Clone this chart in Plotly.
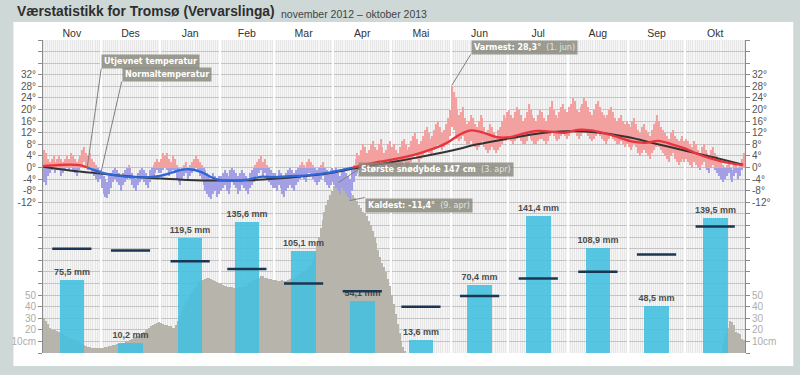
import pandas as pd
import plotly.graph_objects as go

# ---------------- data ----------------
months = ['Nov', 'Des', 'Jan', 'Feb', 'Mar', 'Apr', 'Mai', 'Jun', 'Jul', 'Aug', 'Sep', 'Okt']
month_starts = ['2012-11-01', '2012-12-01', '2013-01-01', '2013-02-01', '2013-03-01', '2013-04-01',
                '2013-05-01', '2013-06-01', '2013-07-01', '2013-08-01', '2013-09-01', '2013-10-01',
                '2013-11-01']
precip_mm = [75.5, 10.2, 119.5, 135.6, 105.1, 54.1, 13.6, 70.4, 141.4, 108.9, 48.5, 139.5]
precip_normal_mm = [108, 106, 95, 87, 72, 64, 48, 59, 77, 84, 102, 131]

tmax_nov = [6,5,3,2,3,4,2,3,4,3,2,3,4,3,5,4,3,2,3,4,6,7,5,4,5,3,2,1,0,-1]
tmin_nov = [-5,-6,-3,-2,-1,0,-2,-1,-1,-3,-2,-1,0,-1,0,-1,-2,-3,-1,0,1,2,0,-1,0,-2,-3,-4,-5,-4]
tmax_des = [-2,-3,-4,-5,-3,-2,-1,0,-1,-2,-3,-2,-1,0,1,0,-2,-3,-4,-2,-1,0,-1,-2,-3,-1,0,1,2,3,2]
tmin_des = [-7,-9,-10,-10.5,-9,-7,-5,-4,-5,-6,-8,-6,-5,-4,-3,-4,-6,-7,-8,-6,-5,-4,-5,-6,-7,-5,-4,-3,-2,-1,-2]
tmax_jan = [3,5,4,5,3,2,4,3,1,0,-1,0,1,2,0,1,2,3,4,3,2,1,0,-1,-2,-3,-4,-2,-3,-4,-3]
tmin_jan = [-2,-1,0,-1,-3,-2,-1,-2,-4,-5,-6,-4,-3,-2,-4,-3,-2,-1,0,-1,-3,-4,-6,-8,-9,-10,-11,-9,-8,-10,-9]
tmax_feb = [-3,-2,-1,-2,-3,-1,0,-1,-2,-3,-2,-1,-2,-3,-4,-2,-1,0,1,2,3,4,2,3,1,0,-1,-2]
tmin_feb = [-8,-7,-6,-8,-9,-7,-5,-6,-7,-9,-8,-6,-7,-8,-9,-7,-6,-5,-4,-3,-2,-1,-3,-2,-4,-5,-6,-7]
tmax_mar = [-2,-3,-1,-2,-4,-3,-2,-1,0,-1,-2,-1,0,1,2,1,0,2,3,2,1,0,-1,0,1,2,0,-1,-2,-1,0]
tmin_mar = [-7,-8,-6,-7,-9,-10,-8,-7,-6,-7,-8,-6,-5,-4,-3,-4,-5,-3,-2,-3,-4,-5,-6,-5,-4,-3,-5,-6,-7,-6,-5]
tmax_apr = [-1,0,-2,-3,-1,0,-2,-3,-4,-1,1,3,5,4,6,8,7,5,6,8,9,7,6,8,10,7,5,6,8,9]
tmin_apr = [-6,-7,-8,-9,-7,-8,-9,-10,-11.4,-8,-5,-3,-2,-1,0,1,0,-1,0,1,2,0,-1,1,2,1,0,-1,0,1]
tmax_mai = [7,8,6,5,7,9,10,8,6,7,9,11,12,10,8,9,11,13,14,12,10,11,13,15,16,14,12,13,15,17,20]
tmin_mai = [0,1,0,-1,0,1,2,1,0,1,2,3,4,3,2,3,4,5,6,5,4,5,6,7,8,7,6,7,8,9,11]
tmax_jun = [28.3,26,24,20,18,19,21,17,15,16,18,17,15,14,16,18,17,14,12,13,15,14,12,11,13,14,16,18,17,19]
tmin_jun = [14,13,11,10,9,10,11,9,8,8,9,8,7,6,7,8,9,7,6,5,6,7,6,5,6,7,8,9,9,10]
tmax_jul = [20,18,17,19,21,20,18,16,17,19,22,20,18,17,16,18,20,19,17,16,18,21,23,20,18,17,19,21,22,20,19]
tmin_jul = [10,9,8,9,10,11,9,8,8,9,11,10,9,8,8,9,10,10,9,8,9,11,12,11,10,9,10,11,12,11,10]
tmax_aug = [21,22,24,23,20,19,21,22,24,23,21,19,18,20,22,23,21,19,18,17,18,20,21,19,17,16,17,18,16,15,16]
tmin_aug = [11,12,13,12,11,10,11,12,13,12,11,10,9,10,11,12,11,10,9,8,9,10,11,10,9,8,8,9,8,7,8]
tmax_sep = [15,14,16,17,15,13,12,14,15,13,12,11,13,15,16,18,16,14,13,12,11,10,12,13,11,10,9,10,11,9]
tmin_sep = [7,6,7,8,7,5,4,5,6,5,4,3,5,6,7,8,7,6,5,4,3,2,4,5,3,2,1,2,3,2]
tmax_okt = [10,9,8,7,9,8,6,5,7,8,6,5,4,6,7,5,4,3,2,1,0,1,2,0,-1,1,2,0,1,3,5]
tmin_okt = [3,2,1,0,2,1,0,-1,1,2,0,-1,-2,0,1,-1,-2,-3,-4,-5,-4,-3,-2,-4,-5,-3,-2,-4,-3,-1,0]

snow_nov = [30,28,25,22,21,20,20,19,18,17,16,15,14,13,12,12,11,10,10,9,8,7,6,5,5,4,4,4,4,4]
snow_des = [4,4,5,5,6,6,7,7,8,8,8,9,9,10,10,11,12,13,14,15,16,17,18,20,21,22,23,24,25,26,27]
snow_jan = [26,25,24,24,23,23,22,22,24,28,32,36,40,44,47,50,53,55,57,59,61,62,63,64,65,65,64,63,62,61,60]
snow_feb = [60,59,58,58,57,57,57,56,56,56,57,57,58,58,59,60,61,62,63,64,65,66,66,65,65,64,64,63]
snow_mar = [63,63,62,62,63,62,62,63,64,64,65,66,67,68,69,70,71,72,74,76,80,85,92,100,108,115,122,128,132,136,140]
snow_apr = [144,146,147,146,145,144,143,142,140,138,136,134,131,128,125,122,121,118,114,110,105,100,95,89,83,78,74,70,64,58]
snow_mai = [50,42,34,25,17,10,5,2] + [0] * 23
snow_jun = [0] * 30
snow_jul = [0] * 31
snow_aug = [0] * 31
snow_sep = [0] * 30
snow_okt = [0] * 19 + [8,14,17,22,28,27,24,18,17,16,12,11]

# smoothed ("utjevnet") temperature, read at selected dates
smooth_dates = ['2012-11-01','2012-11-08','2012-11-15','2012-11-20','2012-11-24','2012-11-28',
                '2012-12-03','2012-12-10','2012-12-20','2012-12-31','2013-01-07','2013-01-12',
                '2013-01-16','2013-01-22','2013-01-30','2013-02-06','2013-02-15','2013-02-22',
                '2013-03-01','2013-03-10','2013-03-20','2013-03-30','2013-04-06','2013-04-11',
                '2013-04-18','2013-04-25','2013-05-02','2013-05-09','2013-05-16','2013-05-23',
                '2013-05-30','2013-06-06','2013-06-12','2013-06-18','2013-06-25','2013-07-02',
                '2013-07-09','2013-07-16','2013-07-23','2013-07-30','2013-08-06','2013-08-13',
                '2013-08-20','2013-08-27','2013-09-03','2013-09-10','2013-09-17','2013-09-24',
                '2013-10-01','2013-10-08','2013-10-15','2013-10-22','2013-10-31']
smooth_temp = [0.5,0.8,1.0,0.8,0.0,-1.0,-2.0,-2.8,-3.4,-3.0,-1.8,-0.8,-0.6,-1.5,-4.0,-4.5,-4.2,-3.2,
               -3.3,-3.0,-2.6,-1.8,-0.8,0.0,1.0,2.0,2.8,3.8,5.0,6.5,8.5,11.5,12.8,12.0,10.5,10.5,
               11.8,12.6,12.4,12.0,13.0,12.8,11.8,10.5,9.0,8.5,9.2,8.0,6.5,4.5,3.0,1.8,0.8]

normal_dates = ['2012-11-01','2012-11-15','2012-12-01','2012-12-15','2013-01-01','2013-01-15',
                '2013-02-01','2013-02-15','2013-03-01','2013-03-15','2013-04-01','2013-04-15',
                '2013-05-01','2013-05-15','2013-06-01','2013-06-15','2013-07-01','2013-07-15',
                '2013-08-01','2013-08-15','2013-09-01','2013-09-15','2013-10-01','2013-10-15',
                '2013-10-31']
normal_temp = [0.3,-1.0,-2.1,-3.0,-3.8,-4.3,-4.5,-4.4,-3.9,-3.1,-1.7,0.1,1.8,3.5,5.8,8.0,10.0,11.6,
               12.5,12.2,10.5,8.3,5.8,3.6,1.0]

# ---------------- assemble ----------------
tmax = tmax_nov + tmax_des + tmax_jan + tmax_feb + tmax_mar + tmax_apr + tmax_mai + tmax_jun + tmax_jul + tmax_aug + tmax_sep + tmax_okt
tmin = tmin_nov + tmin_des + tmin_jan + tmin_feb + tmin_mar + tmin_apr + tmin_mai + tmin_jun + tmin_jul + tmin_aug + tmin_sep + tmin_okt
snow = snow_nov + snow_des + snow_jan + snow_feb + snow_mar + snow_apr + snow_mai + snow_jun + snow_jul + snow_aug + snow_sep + snow_okt

DAY = 86400000
days = pd.date_range('2012-11-01', '2013-10-31', freq='D')
day_mid = days + pd.Timedelta(hours=12)
n = len(days)
tmax = tmax[:n]; tmin = tmin[:n]; snow = snow[:n]

ms = pd.to_datetime(month_starts)
month_mid = [ms[i] + (ms[i + 1] - ms[i]) / 2 for i in range(12)]

warm_base = [max(lo, 0) for lo in tmin]
warm_h = [(hi - max(lo, 0)) if hi > 0 else 0 for hi, lo in zip(tmax, tmin)]
cold_base = [lo for lo in tmin]
cold_h = [(min(hi, 0) - lo) if lo < 0 else 0 for hi, lo in zip(tmax, tmin)]

sx = pd.to_datetime(smooth_dates)
xs, ys = [], []
for i, v in enumerate(smooth_temp):
    if i > 0 and smooth_temp[i - 1] * v < 0:
        v0 = smooth_temp[i - 1]
        t = v0 / (v0 - v)
        xs.append(sx[i - 1] + (sx[i] - sx[i - 1]) * t)
        ys.append(0.0)
    xs.append(sx[i]); ys.append(v)
warm_y = [v if v >= 0 else None for v in ys]
cold_y = [v if v <= 0 else None for v in ys]

fig = go.Figure()

# snow depth
fig.add_trace(go.Bar(x=day_mid, y=snow, width=0.8 * DAY, marker=dict(color='#b7b4ac', line=dict(width=0)),
                     xaxis='x', yaxis='y', hoverinfo='skip'))

# precipitation
labels = [('<b>%.1f mm</b>' % v).replace('.', ',') for v in precip_mm]
fig.add_trace(go.Bar(x=month_mid, y=precip_mm, width=12.8 * DAY, xaxis='x', yaxis='y2',
                     marker=dict(color='#46c1e0', line=dict(width=0)), opacity=0.9,
                     text=labels, textposition='outside', cliponaxis=False, constraintext='none',
                     textfont=dict(family='Liberation Sans, Arial', size=9, color='#3a3a3a'),
                     hoverinfo='skip'))
fig.add_trace(go.Scatter(x=month_mid, y=precip_normal_mm, mode='markers', xaxis='x', yaxis='y2',
                         marker=dict(symbol='line-ew', size=28, line=dict(width=2.5, color='#1b3652')),
                         hoverinfo='skip'))

# daily temperature ranges
fig.add_trace(go.Bar(x=day_mid, y=warm_h, base=warm_base, width=0.55 * DAY, xaxis='x', yaxis='y3',
                     marker=dict(color='#f2a0a0', line=dict(width=0)), hoverinfo='skip'))
fig.add_trace(go.Bar(x=day_mid, y=cold_h, base=cold_base, width=0.55 * DAY, xaxis='x', yaxis='y3',
                     marker=dict(color='#a29fe4', line=dict(width=0)), hoverinfo='skip'))

# normal temperature
fig.add_trace(go.Scatter(x=pd.to_datetime(normal_dates), y=normal_temp, mode='lines', xaxis='x', yaxis='y3',
                         line=dict(color='#333333', width=2, shape='spline'), hoverinfo='skip'))
# smoothed temperature
fig.add_trace(go.Scatter(x=xs, y=cold_y, mode='lines', xaxis='x', yaxis='y3', connectgaps=False,
                         line=dict(color='#2f66d6', width=2.3, shape='spline'), hoverinfo='skip'))
fig.add_trace(go.Scatter(x=xs, y=warm_y, mode='lines', xaxis='x', yaxis='y3', connectgaps=False,
                         line=dict(color='#e8343c', width=2.3, shape='spline'), hoverinfo='skip'))

# invisible anchors so that the helper axes get drawn
for xa, ya in [('x2', 'y'), ('x3', 'y'), ('x', 'y4'), ('x', 'y5')]:
    fig.add_trace(go.Scatter(x=[days[0]], y=[1], xaxis=xa, yaxis=ya, mode='markers',
                             marker=dict(opacity=0, size=1), hoverinfo='skip'))

# ---------------- axes ----------------
xr = ['2012-11-01', '2013-11-01']
snow_ticks = list(range(0, 271, 10))
snow_text = ['10cm' if v == 10 else (str(v) if v in (20, 30, 40, 50) else '') for v in snow_ticks]
temp_ticks = list(range(-12, 33, 4))
temp_text = ['%d°' % v for v in temp_ticks]
AX = '#8c8c8c'
tfont = dict(family='Liberation Sans, Arial', size=10, color='#555555')
sfont = dict(family='Liberation Sans, Arial', size=10, color='#adadad')

L, R, T, B = 33, 55, 40, 22
W, H = 800, 375
pw, ph = W - L - R, H - T - B


def px(x, y):
    return (x - L) / pw, (H - B - y) / ph


fig.update_layout(
    width=W, height=H, autosize=False,
    margin=dict(l=L, r=R, t=T, b=B, pad=0),
    paper_bgcolor='#cdd8d7', plot_bgcolor='rgba(0,0,0,0)',
    barmode='overlay', bargap=0, showlegend=False,
    font=dict(family='Liberation Sans, Arial, sans-serif'),
    xaxis=dict(type='date', range=xr, showticklabels=False, showgrid=True, gridcolor='#f6f6f6',
               gridwidth=1, dtick=DAY, tick0='2012-11-01', ticks='', zeroline=False, showline=False,
               fixedrange=True),
    xaxis2=dict(type='date', overlaying='x', anchor='y', range=xr, tickvals=month_starts,
                showticklabels=False, showgrid=True, gridcolor='#ffffff', gridwidth=2, ticks='',
                zeroline=False, showline=False),
    xaxis3=dict(type='date', overlaying='x', anchor='y', side='top', range=xr, tickvals=month_mid,
                ticktext=months, showgrid=False, ticks='', zeroline=False, showline=False,
                tickfont=dict(family='Liberation Sans, Arial', size=10.5, color='#333333')),
    yaxis=dict(range=[0, 270], tickvals=snow_ticks, ticktext=snow_text, showgrid=True,
               gridcolor='#c4c4c4', gridwidth=1, ticks='outside', ticklen=4, tickcolor=AX,
               showline=True, linecolor=AX, linewidth=1, zeroline=False, tickfont=sfont),
    yaxis2=dict(overlaying='y', range=[0, 324], visible=False),
    yaxis3=dict(overlaying='y', anchor='x', side='left', range=[-64, 44], tickvals=temp_ticks,
                ticktext=temp_text, showgrid=False, zeroline=False, ticks='outside', ticklen=4,
                tickcolor=AX, showline=False, tickfont=tfont),
    yaxis4=dict(overlaying='y', anchor='x', side='right', range=[-64, 44], tickvals=temp_ticks,
                ticktext=temp_text, showgrid=False, zeroline=False, ticks='outside', ticklen=4,
                tickcolor=AX, showline=False, tickfont=tfont),
    yaxis5=dict(overlaying='y', anchor='x', side='right', range=[0, 270], tickvals=snow_ticks,
                ticktext=snow_text, showgrid=False, zeroline=False, ticks='outside', ticklen=4,
                tickcolor=AX, showline=True, linecolor=AX, tickfont=sfont),
)

# panel & plot-area backgrounds
x0, y0 = px(3, 366)
x1, y1 = px(794, 22)
fig.add_shape(type='rect', xref='paper', yref='paper', x0=x0, y0=y0, x1=x1, y1=y1,
              fillcolor='#ffffff', line=dict(width=0), layer='below')
fig.add_shape(type='rect', xref='paper', yref='paper', x0=0, y0=0, x1=1, y1=1,
              fillcolor='#e6e6e6', line=dict(width=0), layer='below')

# title
tx, ty = px(5, 12)
fig.add_annotation(xref='paper', yref='paper', x=tx, y=ty, xanchor='left', yanchor='middle',
                   showarrow=False, text='<b>Værstatistikk for Tromsø (Vervarslinga)</b>',
                   font=dict(family='Liberation Sans, Arial', size=13.8, color='#2e2e2e'))
sx_, sy_ = px(272, 14)
fig.add_annotation(xref='paper', yref='paper', x=sx_, y=sy_, xanchor='left', yanchor='middle',
                   showarrow=False, text='november 2012 – oktober 2013',
                   font=dict(family='Liberation Sans, Arial', size=10.5, color='#444444'))

BOX = 'rgba(135,135,125,0.82)'
nfont = dict(family='DejaVu Sans, Verdana', size=8, color='#ffffff')


def note(text, x, y, yref, ax, ay, xanchor, yanchor):
    fig.add_annotation(x=x, y=y, xref='x', yref=yref, ax=ax, ay=ay, axref='pixel', ayref='pixel',
                       text=text, showarrow=True, arrowhead=0, arrowwidth=1, arrowcolor='#808080',
                       xanchor=xanchor, yanchor=yanchor, bgcolor=BOX, borderpad=2, font=nfont)


i_max = max(range(n), key=lambda i: tmax[i])
i_min = min(range(n), key=lambda i: tmin[i])
i_snow = max(range(n), key=lambda i: snow[i])
mon_low = ['jan', 'feb', 'mar', 'apr', 'mai', 'jun', 'jul', 'aug', 'sep', 'okt', 'nov', 'des']


def dstr(d):
    return '%d. %s' % (d.day, mon_low[d.month - 1])


note('<b>Utjevnet temperatur</b>', sx[4], smooth_temp[4], 'y3', 14, -99, 'left', 'bottom')
note('<b>Normaltemperatur</b>', pd.to_datetime(normal_dates[2]), normal_temp[2], 'y3', 21, -92,
     'left', 'bottom')
note(('<b>Varmest: %.1f°</b>  <span style="color:#e4e4e4">(%s)</span>' % (tmax[i_max], dstr(days[i_max]))).replace('.', ',', 1),
     day_mid[i_max], tmax[i_max], 'y3', 19, -31, 'left', 'bottom')
note('<b>Største snødybde %d cm</b>  <span style="color:#e4e4e4">(%s)</span>' % (snow[i_snow], dstr(days[i_snow])),
     day_mid[i_snow], snow[i_snow], 'y', 20, -13, 'left', 'middle')
note(('<b>Kaldest: %.1f°</b>  <span style="color:#e4e4e4">(%s)</span>' % (tmin[i_min], dstr(days[i_min]))).replace('.', ',', 1),
     day_mid[i_min], tmin[i_min], 'y3', 15, -3, 'left', 'top')

fig.write_html('out.html', config=dict(displayModeBar=False),
               post_script="document.body.style.margin='0';")
